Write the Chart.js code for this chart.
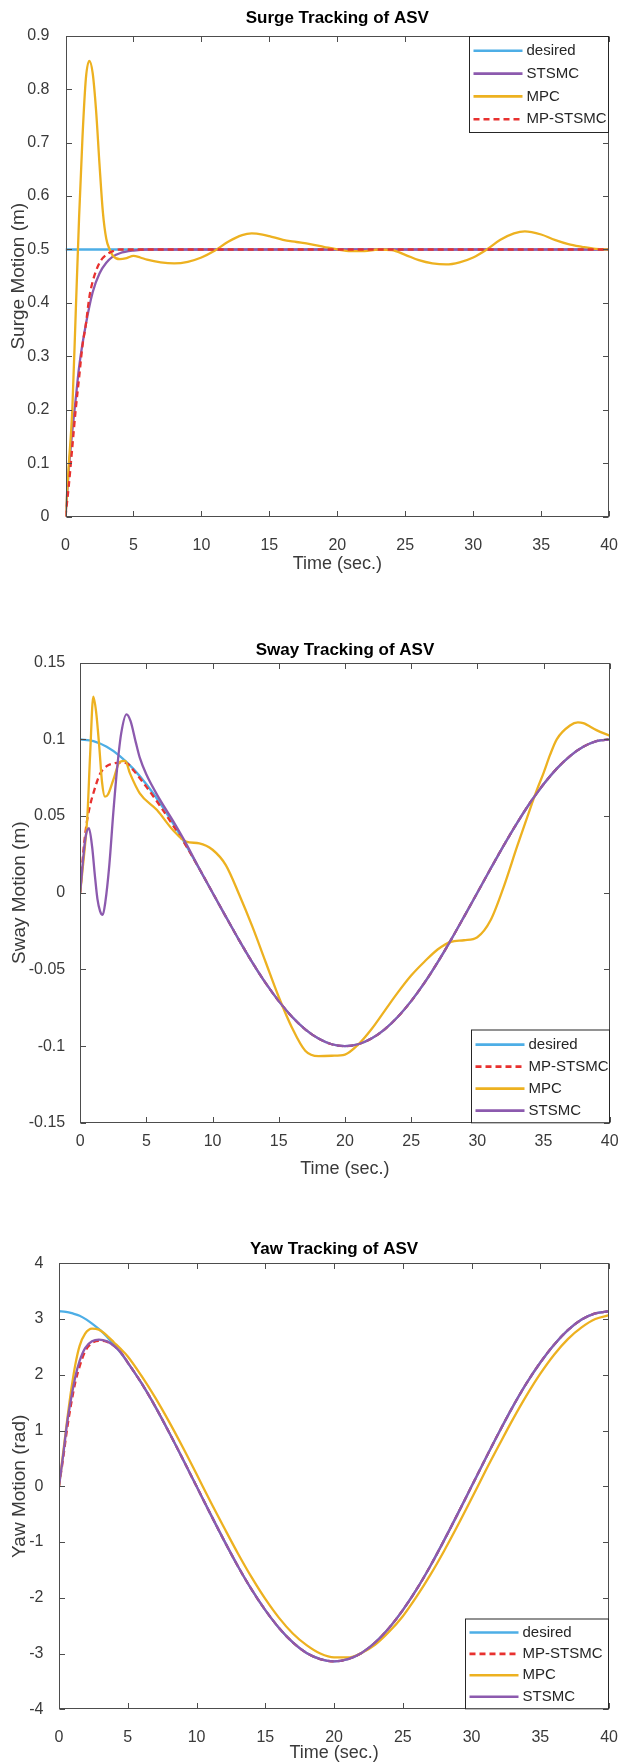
<!DOCTYPE html>
<html>
<head>
<meta charset="utf-8">
<title>ASV tracking</title>
<script src="https://cdn.jsdelivr.net/npm/chart.js@4.4.1/dist/chart.umd.min.js"></script>
<style>
  html, body { margin: 0; padding: 0; background: #fff; }
  body { position: relative; width: 629px; height: 1762px; overflow: hidden; }
  canvas { position: absolute; left: 0; }
</style>
</head>
<body>
<canvas id="surge" width="629" height="580" style="top:0px"></canvas>
<canvas id="sway" width="629" height="600" style="top:600px"></canvas>
<canvas id="yaw" width="629" height="547" style="top:1215px"></canvas>
<script>
// ---- shared axis ticks ----
const xTicks = [0, 5, 10, 15, 20, 25, 30, 35, 40];
const xTickLabels = ['0', '5', '10', '15', '20', '25', '30', '35', '40'];

// ---- surge ----
const surgeYTicks = [0, 0.1, 0.2, 0.3, 0.4, 0.5, 0.6, 0.7, 0.8, 0.9];
const surgeYLabels = ['0', '0.1', '0.2', '0.3', '0.4', '0.5', '0.6', '0.7', '0.8', '0.9'];
const surgeDesiredT = [0, 40];
const surgeDesired = [0.5, 0.5];
const surgeStsmcT = [0, 0.25, 0.5, 0.75, 1, 1.5, 2, 2.5, 3, 3.5, 4, 5, 6, 40];
const surgeStsmc = [0, 0.09, 0.16, 0.22, 0.28, 0.36, 0.42, 0.455, 0.475, 0.487, 0.493, 0.498, 0.5, 0.5];
const surgeMpcT = [0, 0.25, 0.5, 0.75, 1, 1.25, 1.5, 1.75, 2, 2.25, 2.5, 2.75, 3, 3.25, 3.5, 4, 4.5, 5, 5.5, 6,
  7, 8, 9, 10, 11, 12, 13, 13.7, 14.5, 15, 16, 17, 18, 19, 20, 21, 22, 23, 24, 25, 26, 27, 28, 29, 30,
  31, 32, 33, 33.8, 35, 36, 37, 38, 39, 40];
const surgeMpc = [0, 0.1, 0.2, 0.38, 0.56, 0.71, 0.82, 0.853, 0.83, 0.76, 0.66, 0.57, 0.52, 0.5, 0.488, 0.482, 0.484, 0.488, 0.485, 0.481,
  0.476, 0.474, 0.477, 0.485, 0.498, 0.515, 0.527, 0.53, 0.528, 0.525, 0.518, 0.514, 0.51, 0.505, 0.5, 0.497, 0.497, 0.5, 0.499, 0.49, 0.48, 0.474, 0.472, 0.476, 0.485,
  0.5, 0.518, 0.53, 0.534, 0.528, 0.518, 0.51, 0.505, 0.501, 0.5];
const surgeMpStsmcT = [0, 0.25, 0.5, 0.75, 1, 1.25, 1.5, 1.75, 2, 2.5, 3, 3.5, 4, 40];
const surgeMpStsmc = [0, 0.06, 0.13, 0.2, 0.26, 0.32, 0.36, 0.41, 0.44, 0.475, 0.49, 0.497, 0.5, 0.5];

// ---- sway ----
const swayYTicks = [-0.15, -0.1, -0.05, 0, 0.05, 0.1, 0.15];
const swayYLabels = ['-0.15', '-0.1', '-0.05', '0', '0.05', '0.1', '0.15'];
const swayDesiredT = [0, 1, 2, 3, 4, 5, 6, 7, 8, 9, 10, 11, 12, 13, 14, 15, 16, 17, 18, 19, 20,
  21, 22, 23, 24, 25, 26, 27, 28, 29, 30, 31, 32, 33, 34, 35, 36, 37, 38, 39, 40];
const swayDesired = [0.1, 0.0988, 0.0951, 0.0891, 0.0809, 0.0707, 0.0588, 0.0454, 0.0309, 0.0156, 0,
  -0.0156, -0.0309, -0.0454, -0.0588, -0.0707, -0.0809, -0.0891, -0.0951, -0.0988, -0.1,
  -0.0988, -0.0951, -0.0891, -0.0809, -0.0707, -0.0588, -0.0454, -0.0309, -0.0156, 0,
  0.0156, 0.0309, 0.0454, 0.0588, 0.0707, 0.0809, 0.0891, 0.0951, 0.0988, 0.1];
const swayStsmcT = [0, 0.2, 0.4, 0.66, 0.9, 1.1, 1.3, 1.5, 1.7, 1.9, 2.2, 2.5, 2.8, 3.1, 3.5, 3.8, 4.2, 4.5, 5, 6, 7, 8,
  9, 10, 11, 12, 13, 14, 15, 16, 17, 18, 19, 20, 21, 22, 23, 24, 25, 26, 27, 28, 29, 30, 31, 32, 33, 34, 35, 36, 37, 38, 39, 40];
const swayStsmc = [0, 0.02, 0.036, 0.042, 0.03, 0.012, -0.004, -0.012, -0.0145, -0.006, 0.018, 0.052, 0.082, 0.104, 0.1163, 0.112, 0.098, 0.088, 0.077, 0.061, 0.047, 0.032,
  0.0156, 0, -0.0156, -0.0309, -0.0454, -0.0588, -0.0707, -0.0809, -0.0891, -0.0951, -0.0988, -0.1,
  -0.0988, -0.0951, -0.0891, -0.0809, -0.0707, -0.0588, -0.0454, -0.0309, -0.0156, 0,
  0.0156, 0.0309, 0.0454, 0.0588, 0.0707, 0.0809, 0.0891, 0.0951, 0.0988, 0.1];
const swayMpcT = [0, 0.25, 0.54, 0.75, 0.99, 1.2, 1.44, 1.65, 1.87, 2.1, 2.5, 3, 3.4, 3.76, 4.5, 5.8, 7, 8, 9, 10,
  11, 12, 13, 14, 15, 16, 17, 18, 19, 20, 21, 22, 23, 24, 25, 26, 27, 28, 29, 30,
  31, 32, 33, 34, 34.5, 35, 35.5, 36, 37, 37.6, 38, 39, 40];
const swayMpc = [0, 0.021, 0.0495, 0.09, 0.1278, 0.118, 0.0952, 0.072, 0.0626, 0.064, 0.0735, 0.0854, 0.086, 0.0778, 0.0648, 0.0539, 0.0409, 0.0333, 0.0322, 0.028,
  0.018, -0.001, -0.022, -0.045, -0.068, -0.088, -0.103, -0.1065, -0.1063, -0.1055, -0.099, -0.089, -0.077, -0.065, -0.054, -0.045, -0.037, -0.032, -0.031, -0.029,
  -0.018, 0.004, 0.03, 0.055, 0.067, 0.078, 0.09, 0.1, 0.109, 0.111, 0.1105, 0.106, 0.1023];
const swayMpStsmcT = [0, 0.25, 0.5, 0.75, 1, 1.5, 2, 2.5, 3, 3.5, 4, 5, 6, 7, 8,
  9, 10, 11, 12, 13, 14, 15, 16, 17, 18, 19, 20, 21, 22, 23, 24, 25, 26, 27, 28, 29, 30, 31, 32, 33, 34, 35, 36, 37, 38, 39, 40];
const swayMpStsmc = [0, 0.028, 0.046, 0.057, 0.065, 0.0775, 0.0825, 0.0843, 0.0848, 0.0845, 0.08, 0.069, 0.057, 0.044, 0.0305,
  0.0156, 0, -0.0156, -0.0309, -0.0454, -0.0588, -0.0707, -0.0809, -0.0891, -0.0951, -0.0988, -0.1,
  -0.0988, -0.0951, -0.0891, -0.0809, -0.0707, -0.0588, -0.0454, -0.0309, -0.0156, 0,
  0.0156, 0.0309, 0.0454, 0.0588, 0.0707, 0.0809, 0.0891, 0.0951, 0.0988, 0.1];

// ---- yaw ----
const yawYTicks = [-4, -3, -2, -1, 0, 1, 2, 3, 4];
const yawYLabels = ['-4', '-3', '-2', '-1', '0', '1', '2', '3', '4'];
const yawDesiredT = [0, 0.5, 1, 1.5, 2, 2.5, 3, 3.5, 4, 4.5, 5, 6, 7, 8, 9, 10, 11, 12, 13, 14, 15, 16, 17, 18, 19, 20,
  21, 22, 23, 24, 25, 26, 27, 28, 29, 30, 31, 32, 33, 34, 35, 36, 37, 38, 39, 40];
const yawDesired = [3.14, 3.13, 3.1, 3.06, 2.99, 2.9, 2.8, 2.68, 2.54, 2.39, 2.22, 1.85, 1.43, 0.97, 0.49, 0,
  -0.49, -0.97, -1.43, -1.85, -2.22, -2.54, -2.8, -2.99, -3.1, -3.14, -3.1, -2.99, -2.8, -2.54, -2.22, -1.85, -1.43, -0.97, -0.49, 0,
  0.49, 0.97, 1.43, 1.85, 2.22, 2.54, 2.8, 2.99, 3.1, 3.14];
const yawT = [0, 0.3, 0.6, 0.9, 1.2, 1.5, 1.9, 2.4, 2.9, 3.5, 4, 4.5, 5, 6, 7, 8, 9, 10, 11, 12, 13, 14, 15, 16, 17, 18, 19, 20,
  21, 22, 23, 24, 25, 26, 27, 28, 29, 30, 31, 32, 33, 34, 35, 36, 37, 38, 39, 40];
const yawStsmc = [0, 0.55, 1.15, 1.6, 1.98, 2.25, 2.48, 2.6, 2.63, 2.6, 2.52, 2.4, 2.22, 1.85, 1.43, 0.97, 0.49, 0,
  -0.49, -0.97, -1.43, -1.85, -2.22, -2.54, -2.8, -2.99, -3.1, -3.14, -3.1, -2.99, -2.8, -2.54, -2.22, -1.85, -1.43, -0.97, -0.49, 0,
  0.49, 0.97, 1.43, 1.85, 2.22, 2.54, 2.8, 2.99, 3.1, 3.14];
const yawMpStsmc = [0, 0.5, 1.05, 1.5, 1.88, 2.15, 2.42, 2.57, 2.61, 2.59, 2.52, 2.4, 2.22, 1.85, 1.43, 0.97, 0.49, 0,
  -0.49, -0.97, -1.43, -1.85, -2.22, -2.54, -2.8, -2.99, -3.1, -3.14, -3.1, -2.99, -2.8, -2.54, -2.22, -1.85, -1.43, -0.97, -0.49, 0,
  0.49, 0.97, 1.43, 1.85, 2.22, 2.54, 2.8, 2.99, 3.1, 3.14];
const yawMpc = [0, 0.6, 1.2, 1.75, 2.2, 2.52, 2.74, 2.83, 2.81, 2.7, 2.58, 2.46, 2.33, 1.98, 1.59, 1.16, 0.7, 0.22,
  -0.27, -0.74, -1.2, -1.63, -2.02, -2.36, -2.64, -2.85, -3.0, -3.07, -3.07, -2.99, -2.84, -2.61, -2.33, -1.98, -1.59, -1.16, -0.7, -0.22,
  0.27, 0.74, 1.2, 1.63, 2.02, 2.36, 2.64, 2.85, 3.0, 3.07];

// ---- styling ----
const BLUE = '#4DAEE6', PURPLE = '#8C5AAE', YELLOW = '#EDB120', RED = '#E8312F';
const TEXT = '#3a3a3a';
const FRAME = '#4d4d4d';
Chart.defaults.font.family = '"Liberation Sans", Arial, Helvetica, sans-serif';

// box around the axes, inward ticks on all four sides, legend inside the axes
const framePlugin = {
  id: 'frame',
  afterDatasetsDraw(chart, args, opts) {
    const { ctx, chartArea: a, scales: { x, y } } = chart;
    const l = Math.round(a.left) + 0.5, r = Math.round(a.right) - 0.5;
    const t = Math.round(a.top) + 0.5, b = Math.round(a.bottom) - 0.5;
    const tl = 5.5;
    ctx.save();
    ctx.strokeStyle = FRAME;
    ctx.lineWidth = 1;
    ctx.setLineDash([]);
    ctx.beginPath();
    x.ticks.forEach(tk => {
      const px = Math.round(x.getPixelForValue(tk.value)) + 0.5;
      ctx.moveTo(px, b); ctx.lineTo(px, b - tl);
      ctx.moveTo(px, t); ctx.lineTo(px, t + tl);
    });
    y.ticks.forEach(tk => {
      const py = Math.round(y.getPixelForValue(tk.value)) + 0.5;
      ctx.moveTo(l, py); ctx.lineTo(l + tl, py);
      ctx.moveTo(r, py); ctx.lineTo(r - tl, py);
    });
    ctx.stroke();
    ctx.strokeRect(l, t, r - l, b - t);

    const lg = opts.legend;
    if (lg) {
      const bx = Math.round(lg.left) + 0.5;
      const by = lg.where === 'top' ? t : Math.round(b - lg.height);
      ctx.fillStyle = '#fff';
      ctx.fillRect(bx, by, r - bx, lg.height);
      ctx.strokeStyle = '#262626';
      ctx.strokeRect(bx, by, r - bx, lg.height);
      ctx.font = '15px "Liberation Sans", Arial, sans-serif';
      ctx.textBaseline = 'middle';
      ctx.textAlign = 'left';
      lg.order.forEach((label, i) => {
        const ds = chart.data.datasets.find(d => d.label === label);
        const yc = by + lg.first + i * lg.step;
        ctx.strokeStyle = ds.borderColor;
        ctx.lineWidth = 2.6;
        ctx.setLineDash(ds.borderDash || []);
        ctx.beginPath();
        ctx.moveTo(bx + 4, yc);
        ctx.lineTo(bx + 53, yc);
        ctx.stroke();
        ctx.setLineDash([]);
        ctx.fillStyle = '#262626';
        ctx.fillText(label, bx + 57, yc);
      });
    }
    ctx.restore();
  }
};

function series(label, t, v, color, dash) {
  return {
    label,
    data: t.map((tt, i) => ({ x: tt, y: v[i] })),
    borderColor: color,
    borderWidth: 2.3,
    borderDash: dash || [],
    pointRadius: 0,
    fill: false,
    cubicInterpolationMode: 'monotone'
  };
}

function makePlot(id, p) {
  return new Chart(document.getElementById(id), {
    type: 'line',
    data: { datasets: p.datasets },
    options: {
      responsive: false,
      animation: false,
      devicePixelRatio: 1,
      layout: { padding: { left: 0, top: 0, bottom: 0, right: 629 - p.area.right } },
      plugins: {
        legend: { display: false },
        tooltip: { enabled: false },
        frame: { legend: p.legend }
      },
      scales: {
        x: {
          type: 'linear', position: 'bottom', min: 0, max: 40,
          grid: { display: false }, border: { display: false },
          afterBuildTicks: s => { s.ticks = xTicks.map(v => ({ value: v })); },
          afterFit: s => { s.height = p.height - p.area.bottom; },
          ticks: {
            autoSkip: false, maxRotation: 0, padding: p.xPad, color: TEXT,
            font: { size: 16 }, callback: (v, i) => xTickLabels[i]
          },
          title: {
            display: true, text: 'Time (sec.)', color: TEXT,
            font: { size: 18, lineHeight: 1 }, padding: { top: 0, bottom: p.xTitlePad }
          }
        },
        x2: {
          type: 'linear', axis: 'x', position: 'top', min: 0, max: 40,
          grid: { display: false }, border: { display: false }, ticks: { display: false },
          afterFit: s => { s.height = p.area.top; },
          title: {
            display: true, text: p.title, color: '#000',
            font: { size: 17, weight: 'bold', lineHeight: 1.2 }, padding: { top: p.titlePad, bottom: 0 }
          }
        },
        y: {
          type: 'linear', position: 'left', min: p.yMin, max: p.yMax,
          grid: { display: false }, border: { display: false },
          afterBuildTicks: s => { s.ticks = p.yTicks.map(v => ({ value: v })); },
          afterFit: s => { s.width = p.area.left; },
          ticks: {
            autoSkip: false, padding: p.yPad, color: TEXT,
            font: { size: 16 }, callback: (v, i) => p.yLabels[i]
          },
          title: {
            display: true, text: p.yTitle, color: TEXT,
            font: { size: 19, lineHeight: 1.2 }, padding: { top: p.yTitlePad, bottom: 0 }
          }
        }
      }
    },
    plugins: [framePlugin]
  });
}

// first dataset is drawn on top
makePlot('surge', {
  title: 'Surge Tracking of ASV', yTitle: 'Surge Motion (m)',
  yMin: 0, yMax: 0.9, yTicks: surgeYTicks, yLabels: surgeYLabels,
  height: 580, area: { left: 65.5, right: 611.7, top: 35.7, bottom: 516.7 },
  titlePad: 8.3, yTitlePad: 7.6, xTitlePad: 7, xPad: 11, yPad: 8,
  legend: { where: 'top', left: 469.3, height: 96, first: 14.3, step: 22.8,
            order: ['desired', 'STSMC', 'MPC', 'MP-STSMC'] },
  datasets: [
    series('MP-STSMC', surgeMpStsmcT, surgeMpStsmc, RED, [6, 4]),
    series('MPC', surgeMpcT, surgeMpc, YELLOW),
    series('STSMC', surgeStsmcT, surgeStsmc, PURPLE),
    series('desired', surgeDesiredT, surgeDesired, BLUE)
  ]
});

makePlot('sway', {
  title: 'Sway Tracking of ASV', yTitle: 'Sway Motion (m)',
  yMin: -0.15, yMax: 0.15, yTicks: swayYTicks, yLabels: swayYLabels,
  height: 600, area: { left: 80.2, right: 609.7, top: 62.6, bottom: 522.8 },
  titlePad: 39.8, yTitlePad: 8.6, xTitlePad: 22, xPad: 1, yPad: 7,
  legend: { where: 'bottom', left: 471.3, height: 92.8, first: 14.6, step: 22,
            order: ['desired', 'MP-STSMC', 'MPC', 'STSMC'] },
  datasets: [
    series('STSMC', swayStsmcT, swayStsmc, PURPLE),
    series('MPC', swayMpcT, swayMpc, YELLOW),
    series('MP-STSMC', swayMpStsmcT, swayMpStsmc, RED, [6, 4]),
    series('desired', swayDesiredT, swayDesired, BLUE)
  ]
});

makePlot('yaw', {
  title: 'Yaw Tracking of ASV', yTitle: 'Yaw Motion (rad)',
  yMin: -4, yMax: 4, yTicks: yawYTicks, yLabels: yawYLabels,
  height: 547, area: { left: 59, right: 611, top: 48.3, bottom: 494.3 },
  titlePad: 23.8, yTitlePad: 8.6, xTitlePad: 0, xPad: 11, yPad: 7.5,
  legend: { where: 'bottom', left: 465.3, height: 89.8, first: 13.5, step: 21.4,
            order: ['desired', 'MP-STSMC', 'MPC', 'STSMC'] },
  datasets: [
    series('STSMC', yawT, yawStsmc, PURPLE),
    series('MPC', yawT, yawMpc, YELLOW),
    series('MP-STSMC', yawT, yawMpStsmc, RED, [6, 4]),
    series('desired', yawDesiredT, yawDesired, BLUE)
  ]
});
</script>
</body>
</html>
